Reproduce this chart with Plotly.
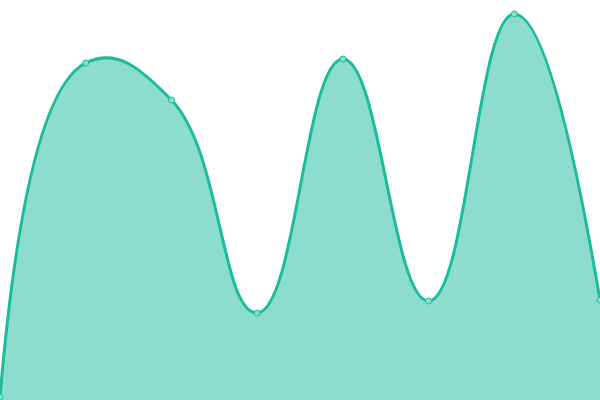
import plotly.graph_objects as go

x_vals = [0, 1, 2, 3, 4, 5, 6, 7]
y_vals = [3, 337, 300, 87, 341, 99, 386, 100]

line_color = "#1abc9c"
fill_color = "rgba(26,188,156,0.5)"

fig = go.Figure()
fig.add_trace(go.Scatter(
    x=x_vals,
    y=y_vals,
    mode="lines+markers",
    fill="tozeroy",
    fillcolor=fill_color,
    line=dict(color=line_color, width=3, shape="spline", smoothing=1.3),
    marker=dict(size=6, color="#8ae0cf", line=dict(color=line_color, width=1)),
    cliponaxis=False,
    hoverinfo="skip",
))

fig.update_layout(
    width=600,
    height=400,
    margin=dict(l=0, r=0, t=0, b=0),
    paper_bgcolor="white",
    plot_bgcolor="white",
    showlegend=False,
    xaxis=dict(range=[0, 7], visible=False, fixedrange=True),
    yaxis=dict(range=[0, 400], visible=False, fixedrange=True),
)

# drop the default body margin so the chart sits flush in the window
fig.write_html("out.html", config={"displayModeBar": False},
               post_script="document.body.style.margin='0';")
